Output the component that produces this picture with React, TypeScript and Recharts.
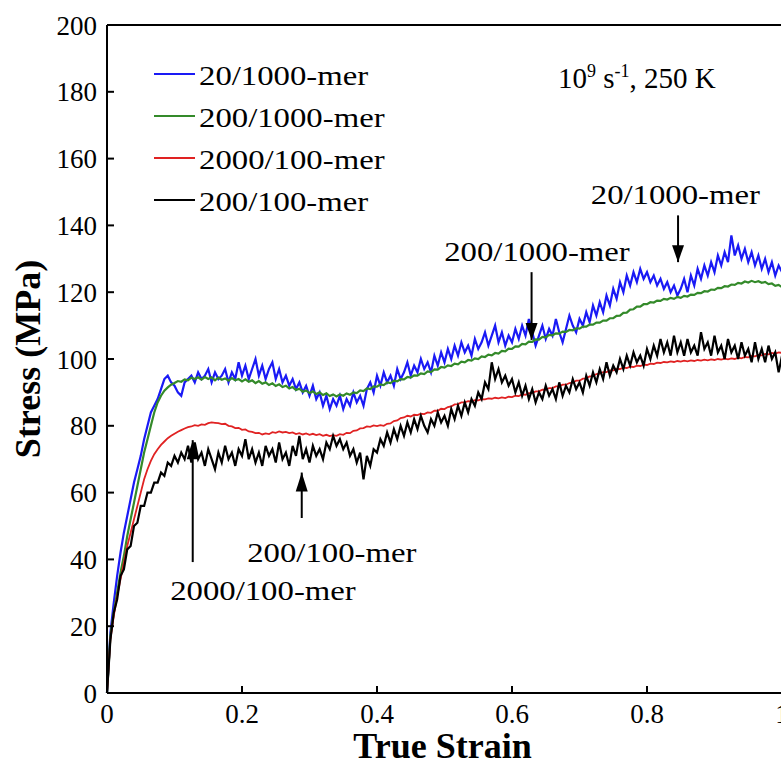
import React from "react";
import { LineChart, Line, XAxis, YAxis, Legend, ReferenceLine, ReferenceDot, Label } from "recharts";

const FONT = '"Liberation Serif", "Times New Roman", serif';

// true strain sampling (step 0.005)
const strain = [
  0, 0.005, 0.01, 0.015, 0.02, 0.025, 0.03, 0.035, 0.04, 0.045,
  0.05, 0.055, 0.06, 0.065, 0.07, 0.075, 0.08, 0.085, 0.09, 0.095,
  0.1, 0.105, 0.11, 0.115, 0.12, 0.125, 0.13, 0.135, 0.14, 0.145,
  0.15, 0.155, 0.16, 0.165, 0.17, 0.175, 0.18, 0.185, 0.19, 0.195,
  0.2, 0.205, 0.21, 0.215, 0.22, 0.225, 0.23, 0.235, 0.24, 0.245,
  0.25, 0.255, 0.26, 0.265, 0.27, 0.275, 0.28, 0.285, 0.29, 0.295,
  0.3, 0.305, 0.31, 0.315, 0.32, 0.325, 0.33, 0.335, 0.34, 0.345,
  0.35, 0.355, 0.36, 0.365, 0.37, 0.375, 0.38, 0.385, 0.39, 0.395,
  0.4, 0.405, 0.41, 0.415, 0.42, 0.425, 0.43, 0.435, 0.44, 0.445,
  0.45, 0.455, 0.46, 0.465, 0.47, 0.475, 0.48, 0.485, 0.49, 0.495,
  0.5, 0.505, 0.51, 0.515, 0.52, 0.525, 0.53, 0.535, 0.54, 0.545,
  0.55, 0.555, 0.56, 0.565, 0.57, 0.575, 0.58, 0.585, 0.59, 0.595,
  0.6, 0.605, 0.61, 0.615, 0.62, 0.625, 0.63, 0.635, 0.64, 0.645,
  0.65, 0.655, 0.66, 0.665, 0.67, 0.675, 0.68, 0.685, 0.69, 0.695,
  0.7, 0.705, 0.71, 0.715, 0.72, 0.725, 0.73, 0.735, 0.74, 0.745,
  0.75, 0.755, 0.76, 0.765, 0.77, 0.775, 0.78, 0.785, 0.79, 0.795,
  0.8, 0.805, 0.81, 0.815, 0.82, 0.825, 0.83, 0.835, 0.84, 0.845,
  0.85, 0.855, 0.86, 0.865, 0.87, 0.875, 0.88, 0.885, 0.89, 0.895,
  0.9, 0.905, 0.91, 0.915, 0.92, 0.925, 0.93, 0.935, 0.94, 0.945,
  0.95, 0.955, 0.96, 0.965, 0.97, 0.975, 0.98, 0.985, 0.99, 0.995,
  1,
];

// stress (MPa), 20/1000-mer
const s20_1000 = [
  0, 18, 27, 35, 42, 48, 53, 58, 63, 67,
  71, 76, 80, 84, 86, 88, 91, 94, 95, 93,
  92, 90, 89, 93, 94, 95, 93, 96, 94, 95,
  97, 93, 96, 94, 95, 97, 93, 96, 94, 99,
  95, 98, 94, 97, 100, 95, 98, 94, 97, 99,
  94, 97, 93, 95, 92, 94, 91, 93, 90, 92,
  89, 92, 88, 90, 86, 89, 85, 88, 86, 89,
  85, 88, 86, 90, 87, 89, 86, 91, 93, 90,
  95, 92, 96, 93, 95, 92, 97, 94, 96, 99,
  95, 98, 96, 100, 97, 99, 96, 101, 98, 102,
  99, 103, 100, 104, 101, 105, 102, 104, 101, 106,
  103, 105, 108, 104, 107, 110, 105, 108, 104, 107,
  105, 109, 106, 110, 107, 112, 108, 104, 107, 110,
  106, 109, 107, 112, 108, 105, 109, 113, 110, 108,
  112, 110, 114, 111, 116, 113, 117, 114, 119, 116,
  121, 118, 123, 120, 125, 122, 126, 123, 127, 124,
  126, 123, 125, 122, 124, 121, 123, 120, 122, 119,
  121, 124, 120, 125, 122, 127, 124, 128, 125, 129,
  126, 131, 128, 132, 129, 137, 131, 134, 130, 133,
  129, 132, 128, 131, 127, 130, 126, 129, 125, 128,
  126,
];

// stress (MPa), 200/1000-mer
const s200_1000 = [
  0, 17, 24, 30, 36, 41, 47, 52, 57, 62,
  67, 72, 76, 80, 84, 87, 89, 90.5, 91.5, 92.3,
  92.8, 93.4, 93.2, 93.9, 93.6, 94.4, 94, 94.5, 93.8, 94.6,
  94, 94.5, 93.6, 94.4, 93.8, 94.2, 93.5, 94.3, 93.6, 94,
  93.3, 93.9, 93.2, 93.6, 92.8, 93.4, 92.6, 93, 92.2, 92.7,
  91.9, 92.4, 91.6, 92, 91.2, 91.6, 90.7, 91.1, 90.2, 90.6,
  89.8, 90.3, 89.5, 90, 89.2, 89.7, 88.9, 89.4, 88.8, 89.4,
  89, 89.7, 89.3, 90, 89.8, 90.6, 90.4, 91.2, 91, 91.8,
  91.7, 92.4, 92.2, 93, 92.8, 93.5, 93.3, 94, 93.9, 94.6,
  94.4, 95.1, 95, 95.7, 95.5, 96.3, 96.1, 96.9, 96.8, 97.6,
  97.4, 98.1, 97.9, 98.6, 98.4, 99.2, 99, 99.7, 99.5, 100.2,
  100, 100.8, 100.6, 101.3, 101.1, 101.8, 101.6, 102.4, 102.3, 103.1,
  103, 103.8, 103.7, 104.5, 104.4, 105.2, 105.1, 105.9, 105.8, 106.6,
  106.5, 107.2, 107.1, 107.7, 107.6, 108.2, 108.1, 108.7, 108.6, 109.2,
  109.1, 109.7, 109.7, 110.3, 110.3, 110.9, 110.9, 111.5, 111.5, 112.2,
  112.2, 112.9, 113, 113.8, 113.9, 114.8, 114.9, 115.7, 115.7, 116.4,
  116.4, 117, 116.9, 117.5, 117.4, 118, 117.8, 118.3, 118, 118.6,
  118.3, 118.9, 118.7, 119.3, 119.2, 119.8, 119.7, 120.3, 120.2, 120.8,
  120.7, 121.3, 121.2, 121.8, 121.7, 122.3, 122.2, 122.8, 122.6, 123.2,
  122.9, 123.4, 123, 123.3, 122.8, 123.1, 122.4, 122.6, 121.9, 122.2,
  121.5,
];

// stress (MPa), 2000/100-mer
const s2000_100 = [
  0, 16, 23, 29, 34, 39, 44, 48, 52, 56,
  60, 64, 67, 69.5, 71.5, 73, 74.3, 75.3, 76.3, 77,
  77.6, 78.2, 78.7, 79.2, 79.6, 79.8, 80.2, 80, 80.4, 80.3,
  80.8, 81, 80.9, 80.8, 80.5, 80.6, 80, 79.8, 79.3, 79.4,
  78.8, 78.9, 78.3, 78.2, 77.8, 77.9, 77.4, 77.7, 77.5, 78.1,
  77.9, 78.3, 78, 78.2, 77.8, 78, 77.5, 77.8, 77.4, 77.7,
  77.3, 77.6, 77.2, 77.5, 77, 77.3, 76.9, 77.2, 77, 77.5,
  77.3, 77.9, 77.8, 78.5, 78.6, 79.2, 79.3, 79.8, 79.7, 80.1,
  79.9, 80.2, 80, 80.6, 80.7, 81.4, 81.6, 82.3, 82.5, 83,
  82.8, 83.3, 83.2, 83.6, 83.5, 84, 83.9, 84.5, 84.5, 85.1,
  85, 85.6, 85.8, 86.4, 86.5, 87, 87, 87.4, 87.3, 87.7,
  87.6, 88, 87.9, 88.2, 88.1, 88.4, 88.2, 88.5, 88.3, 88.7,
  88.6, 89, 88.9, 89.4, 89.3, 89.8, 89.8, 90.3, 90.3, 90.8,
  90.8, 91.3, 91.3, 91.8, 91.8, 92.3, 92.3, 92.8, 92.9, 93.5,
  93.5, 94.1, 94.2, 94.8, 94.9, 95.5, 95.6, 96.1, 96.1, 96.6,
  96.6, 97, 97, 97.4, 97.3, 97.7, 97.6, 98, 97.9, 98.3,
  98.2, 98.6, 98.5, 98.9, 98.8, 99.1, 99, 99.3, 99.1, 99.4,
  99.2, 99.5, 99.3, 99.6, 99.4, 99.7, 99.5, 99.8, 99.6, 99.9,
  99.7, 100, 99.8, 100.1, 99.9, 100.2, 100, 100.4, 100.2, 100.6,
  100.5, 100.9, 100.8, 101.2, 101.1, 101.5, 101.4, 101.8, 101.6, 102,
  101.8,
];

// stress (MPa), 200/100-mer
const s200_100 = [
  0, 16, 24, 28, 35, 37, 43, 44, 50, 51,
  56, 56, 60, 60, 63, 63, 66, 65, 69, 68,
  71, 69, 72, 70, 74, 69, 75, 70, 72, 68,
  73, 70, 67, 72, 69, 74, 70, 72, 68, 73,
  71, 76, 70, 73, 69, 72, 68, 74, 71, 73,
  69, 75, 70, 72, 68, 74, 71, 77, 70, 73,
  69, 74, 71, 73, 70, 75, 73, 77, 74, 76,
  73, 75, 71, 73, 69, 72, 64, 71, 68, 73,
  72, 76, 74, 78, 75, 79, 76, 80, 77, 81,
  78, 82, 79, 83, 80, 78, 82, 80, 84, 81,
  83, 80, 85, 82, 86, 83, 87, 84, 88, 86,
  90, 88, 93, 91, 99, 94, 97, 93, 95, 92,
  94, 90, 93, 89, 92, 88, 91, 87, 90, 88,
  92, 89, 91, 88, 93, 89, 92, 90, 94, 91,
  93, 90, 95, 92, 96, 93, 97, 94, 99, 95,
  98, 96, 100, 97, 101, 98, 102, 99, 101, 98,
  103, 100, 104, 101, 106, 102, 105, 101, 107, 102,
  105, 101, 106, 102, 104, 101, 108, 103, 105, 101,
  107, 102, 104, 100, 106, 102, 104, 100, 105, 101,
  103, 99, 105, 100, 103, 99, 104, 100, 102, 96,
  101,
];

const series = [
  { key: "a", name: "20/1000-mer", color: "#1a1af5", width: 2.2 },
  { key: "b", name: "200/1000-mer", color: "#348a2a", width: 2.2 },
  { key: "c", name: "2000/100-mer", color: "#e02222", width: 1.8 },
  { key: "d", name: "200/100-mer", color: "#000000", width: 2.2 },
];

const xTicks = [0, 0.2, 0.4, 0.6, 0.8, 1];
const yTicks = [0, 20, 40, 60, 80, 100, 120, 140, 160, 180, 200];

// arrow annotations: strain, stress at tail, stress at tip
const arrows = [
  { x: 0.846, from: 143, to: 129 },
  { x: 0.629, from: 126, to: 105.7 },
  { x: 0.2885, from: 52.4, to: 66 },
  { x: 0.127, from: 39.2, to: 75.7 },
];

const notes = [
  { x: 0.842, y: 146.4, text: "20/1000-mer" },
  { x: 0.637, y: 129.3, text: "200/1000-mer" },
  { x: 0.333, y: 39.2, text: "200/100-mer" },
  { x: 0.231, y: 27.8, text: "2000/100-mer" },
];

const rows = strain.map((s, i) => ({
  s,
  a: s20_1000[i],
  b: s200_1000[i],
  c: s2000_100[i],
  d: s200_100[i],
}));

const fmtX = (v: number) => (v === 0 ? "0" : v === 1 ? "1" : String(v));

const axisStroke = { stroke: "#000", strokeWidth: 2 };
const tickFont = { fill: "#000", fontSize: 27, fontFamily: FONT };

function LegendBox() {
  return (
    <svg width={260} height={170}>
      {series.map((s, i) => (
        <g key={s.key}>
          <line x1={6} x2={47} y1={21 + i * 42} y2={21 + i * 42} stroke={s.color} strokeWidth={2} />
          <text transform={`translate(51,${32 + i * 42}) scale(1.17,1)`} fontSize={28} fontFamily={FONT} fill="#000">
            {s.name}
          </text>
        </g>
      ))}
    </svg>
  );
}

const noteShape = (text: string) => (p: any) => (
  <text transform={`translate(${p.cx},${p.cy}) scale(1.17,1)`} textAnchor="middle" fontSize={28} fontFamily={FONT} fill="#000">
    {text}
  </text>
);

const headShape = (up: boolean) => (p: any) => {
  const base = p.cy + (up ? 19 : -17);
  return <polygon points={`${p.cx},${p.cy} ${p.cx - 6},${base} ${p.cx + 6},${base}`} fill="#000" />;
};

const condShape = (p: any) => (
  <text x={p.cx} y={p.cy} fontSize={29} fontFamily={FONT} fill="#000">
    <tspan>10</tspan>
    <tspan dy={-11} fontSize={18}>9</tspan>
    <tspan dy={11}> s</tspan>
    <tspan dy={-11} fontSize={18}>-1</tspan>
    <tspan dy={11}>, 250 K</tspan>
  </text>
);

export default function App() {
  return (
    <div style={{ position: "absolute", left: 8, top: 8, width: 773, height: 755, overflow: "hidden", background: "#fff" }}>
      <LineChart width={790} height={755} data={rows} margin={{ top: 16, right: 15, bottom: 10, left: 39 }}>
        <XAxis dataKey="s" type="number" domain={[0, 1]} ticks={xTicks} interval={0} tickFormatter={fmtX}
          height={60} tickSize={-7} tickMargin={18} axisLine={axisStroke} tickLine={axisStroke} tick={tickFont}>
          <Label content={(p: any) => (
            <text x={p.viewBox.x + p.viewBox.width / 2 - 2} y={p.viewBox.y + 65} textAnchor="middle"
              fontSize={36} fontWeight="bold" fontFamily={FONT} fill="#000">True Strain</text>
          )} />
        </XAxis>
        <XAxis xAxisId="top" orientation="top" dataKey="s" type="number" domain={[0, 1]} ticks={xTicks} interval={0}
          height={1} tickSize={-7} tick={false} axisLine={axisStroke} tickLine={axisStroke} />
        <YAxis type="number" domain={[0, 200]} ticks={yTicks} interval={0} width={60} tickSize={-7} tickMargin={17}
          axisLine={axisStroke} tickLine={axisStroke} tick={tickFont}>
          <Label content={(p: any) => {
            const cx = p.viewBox.x - 19;
            const cy = p.viewBox.y + p.viewBox.height / 2;
            return (
              <text x={cx} y={cy} transform={`rotate(-90 ${cx} ${cy})`} textAnchor="middle" dominantBaseline="central"
                fontSize={36} fontWeight="bold" fontFamily={FONT} fill="#000">Stress (MPa)</text>
            );
          }} />
        </YAxis>
        <YAxis yAxisId="right" orientation="right" type="number" domain={[0, 200]} ticks={yTicks} interval={0}
          width={1} tickSize={-7} tick={false} axisLine={axisStroke} tickLine={axisStroke} />

        {series.map((s) => (
          <Line key={s.key} dataKey={s.key} name={s.name} type="linear" stroke={s.color} strokeWidth={s.width}
            dot={false} activeDot={false} isAnimationActive={false} />
        ))}

        {arrows.map((a, i) => (
          <ReferenceLine key={`shaft${i}`} segment={[{ x: a.x, y: a.from }, { x: a.x, y: a.to }]} stroke="#000" strokeWidth={2} />
        ))}
        {arrows.map((a, i) => (
          <ReferenceDot key={`head${i}`} x={a.x} y={a.to} r={1} shape={headShape(a.to > a.from)} />
        ))}
        {notes.map((n, i) => (
          <ReferenceDot key={`note${i}`} x={n.x} y={n.y} r={1} shape={noteShape(n.text)} />
        ))}
        <ReferenceDot x={0.668} y={181.1} r={1} shape={condShape} />

        <Legend content={() => <LegendBox />} layout="vertical" align="center" verticalAlign="middle"
          wrapperStyle={{ left: 140, top: 45, width: 260, height: 170 }} />
      </LineChart>
    </div>
  );
}
